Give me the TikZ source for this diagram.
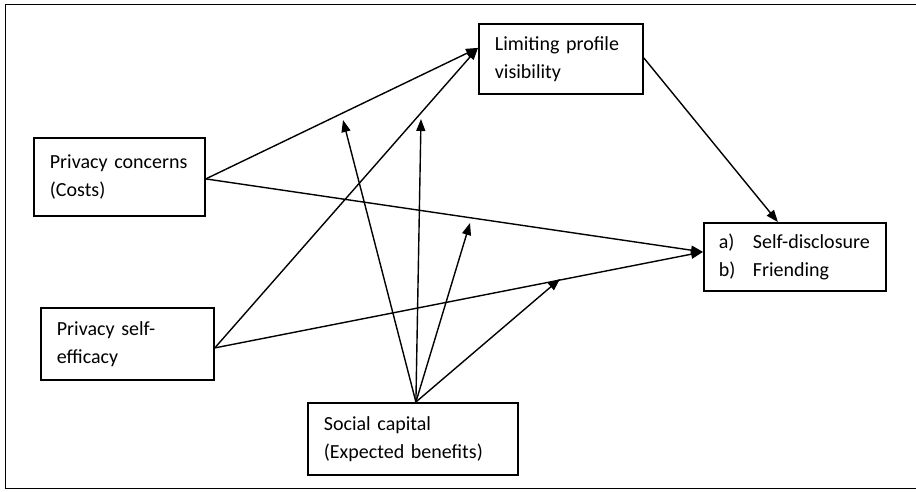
\documentclass[tikz,border=0pt]{standalone}
\usepackage{fontspec}
\setmainfont{Carlito}
\usetikzlibrary{arrows.meta}
\tikzset{
  box/.style={draw, line width=1.8pt, anchor=north west, align=left,
    inner xsep=16pt, inner ysep=0pt,
    font=\fontsize{20}{28}\selectfont},
  link/.style={line width=1.4pt, -{Triangle[length=12pt,width=9pt]}},
  frame/.style={line width=1.6pt}
}
\begin{document}
\begin{tikzpicture}[x=1pt,y=-1pt]
\useasboundingbox (0,0) rectangle (916,491);
\draw[frame] (916,4.5) -- (5.5,4.5) -- (5.5,488.5) -- (916,488.5);

\node[box, text width=139pt, minimum height=78pt] (PC) at (33,137) {\mbox{Privacy concerns}\\(Costs)};
\node[box, text width=132pt, minimum height=70pt] (LPV) at (478,23) {Limiting profile\\visibility};
\node[box, text width=152pt, minimum height=68pt, inner xsep=15pt] (SD) at (703,222) {\makebox[34pt][l]{a)}Self-disclosure\\\makebox[34pt][l]{b)}Friending};
\node[box, text width=141pt, minimum height=72pt] (PSE) at (40,307) {Privacy self-\\efficacy};
\node[box, text width=178pt, minimum height=72pt] (SC) at (307,402) {Social capital\\(Expected benefits)};

\coordinate (m1) at (343,120);
\coordinate (m2) at (421,119);
\coordinate (m3) at (470,223);
\coordinate (m4) at (560,279);

\draw[link] ([yshift=-2pt]PC.east) -- ([yshift=11pt]LPV.west);
\draw[link] ([yshift=-2pt]PC.east) -- ([yshift=5pt]SD.west);
\draw[link] ([yshift=-4pt]PSE.east) -- ([yshift=11pt]LPV.west);
\draw[link] ([yshift=-4pt]PSE.east) -- ([yshift=5pt]SD.west);
\draw[link] ([yshift=1pt]LPV.east) -- ([xshift=-17pt]SD.north);

\draw[link] ([xshift=3pt]SC.north) -- (m1);
\draw[link] ([xshift=3pt]SC.north) -- (m2);
\draw[link] ([xshift=3pt]SC.north) -- (m3);
\draw[link] ([xshift=3pt]SC.north) -- (m4);
\end{tikzpicture}
\end{document}
